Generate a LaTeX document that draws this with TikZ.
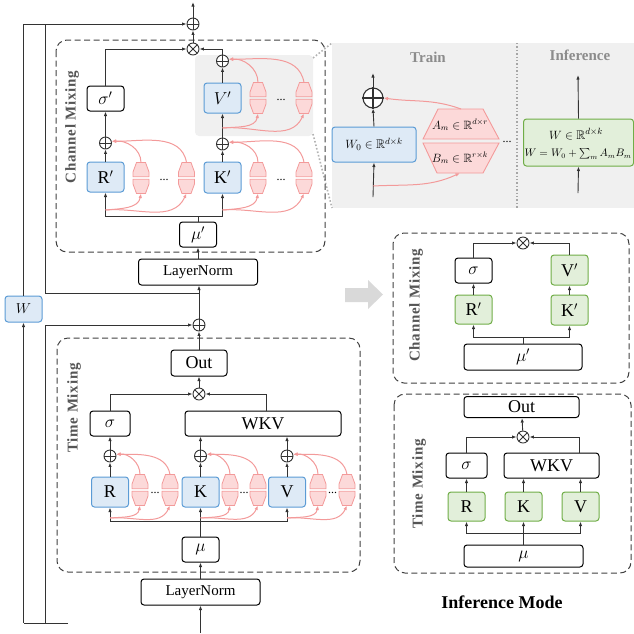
\documentclass[tikz,border=0pt]{standalone}
\usepackage{fontspec}
\setmainfont{Liberation Serif}
\usepackage{amssymb}
\usetikzlibrary{arrows.meta,calc}
\definecolor{lc}{HTML}{333333}
\definecolor{bfill}{HTML}{DEEAF6}
\definecolor{bdraw}{HTML}{5B9BD5}
\definecolor{gfill}{HTML}{E2EFDA}
\definecolor{gdraw}{HTML}{70AD47}
\definecolor{pdraw}{HTML}{F39A9A}
\definecolor{pfill}{HTML}{FCD9D9}
\definecolor{panel}{HTML}{F0F0F0}
\definecolor{gtxt}{HTML}{8C8C8C}
\definecolor{lblc}{HTML}{555555}
\definecolor{darrow}{HTML}{D9D9D9}
\begin{document}
\begin{tikzpicture}[x=1pt,y=-1pt,
  nbox/.style={draw=black, line width=1pt, rounded corners=3pt, fill=white, inner sep=0pt, font=\fontsize{18}{18}\selectfont},
  bbox/.style={nbox, draw=bdraw, fill=bfill},
  gbox/.style={nbox, draw=gdraw, fill=gfill},
  sz/.style 2 args={minimum width=#1pt, minimum height=#2pt},
  oplus/.style={circle, draw=lc, line width=0.9pt, fill=white, minimum size=12pt, inner sep=0pt,
    path picture={\draw[lc, line width=0.9pt] (path picture bounding box.north) -- (path picture bounding box.south) (path picture bounding box.west) -- (path picture bounding box.east);}},
  otimes/.style={circle, draw=lc, line width=0.9pt, fill=white, minimum size=12pt, inner sep=0pt,
    path picture={\draw[lc, line width=0.9pt] (path picture bounding box.north west) -- (path picture bounding box.south east) (path picture bounding box.north east) -- (path picture bounding box.south west);}},
  ar/.style={-{Latex[length=4.5pt,width=3.4pt]}, draw=lc, line width=0.9pt},
  ln/.style={draw=lc, line width=0.9pt},
  parr/.style={-{Latex[length=4.5pt,width=3.6pt]}, draw=pdraw, line width=1pt},
  dbox/.style={draw=black!75, dash pattern=on 6pt off 3.5pt, line width=1pt, rounded corners=11pt},
  lbl/.style={rotate=90, text=lblc, font={\fontsize{15}{15}\selectfont\bfseries\addfontfeatures{LetterSpace=5}}},
  dots/.style={inner sep=0pt, font=\fontsize{12}{12}\selectfont},
  lorahex/.pic={
    \filldraw[draw=pdraw, fill=pfill, line width=0.8pt] (-4.5,-15.5) -- (4.5,-15.5) -- (8,-6) -- (8,-1.3) -- (-8,-1.3) -- (-8,-6) -- cycle;
    \filldraw[draw=pdraw, fill=pfill, line width=0.8pt] (-4.5,15.5) -- (4.5,15.5) -- (8,6) -- (8,1.3) -- (-8,1.3) -- (-8,6) -- cycle;
    \coordinate (-top) at (0,-15.5);
    \coordinate (-bot) at (0,15.5);
  }
]
\useasboundingbox (0,0) rectangle (634,633);

% ---------------- backgrounds ----------------
\fill[panel] (332,43) rectangle (634,208);
\fill[panel, rounded corners=4pt] (195,55) rectangle (313,136);
\draw[gray!60, dotted, line width=1.6pt] (313,58) -- (332,43);
\draw[gray!60, dotted, line width=1.6pt] (313,134) -- (332,208);
\draw[gray!70, dotted, line width=1.4pt] (517,43) -- (517,208);
\draw[dbox] (56,40) rectangle (325,252);
\draw[dbox] (57,338) rectangle (360,572);
\draw[dbox] (393,233) rectangle (629,383);
\draw[dbox] (394,394) rectangle (631,573);

% ---------------- Channel mixing (training) ----------------
\node[oplus] (topplus) at (193,24) {};
\coordinate (topend) at (193,2);
\node[otimes] (cmx) at (193,49) {};
\node[nbox, sz={37}{25}] (sigp) at (105.5,98.5) {$\sigma'$};
\node[bbox, sz={37}{30}] (vp) at (222.5,98) {$V'$};
\node[oplus] (vplus) at (222.5,61) {};
\node[oplus] (rplus) at (105.5,143) {};
\node[bbox, sz={37}{30}] (rp) at (105.5,177) {R$'$};
\node[oplus] (kplus) at (222.5,144) {};
\node[bbox, sz={37}{31}] (kp) at (222.5,177.5) {K$'$};
\node[nbox, sz={37}{25}] (mup) at (198,234.5) {$\mu'$};
\node[nbox, sz={119}{26}, font=\fontsize{15}{15}\selectfont] (ln1) at (198,272) {LayerNorm};
\coordinate (cmj) at (198,216);
\node[lbl] (cmlabel) at (72,127) {Channel Mixing};

\draw[ar] (topplus) -- (topend);
\draw[ar] (cmx) -- (topplus);
\draw[ar] (sigp.north) |- (cmx.west);
\draw[ar] (vplus.north) |- (cmx.east);
\draw[ar] (vp) -- (vplus);
\draw[ar] (kplus) -- (vp);
\draw[ar] (kp) -- (kplus);
\draw[ar] (rp) -- (rplus);
\draw[ar] (rplus) -- (sigp);
\draw[ln] (mup.north) -- (cmj);
\draw[ar] (cmj) -| (rp.south);
\draw[ar] (cmj) -| (kp.south);
\draw[ar] (ln1) -- (mup);

% pink LoRA branches (channel mixing)
\pic (rh1) at (141,178) {lorahex};
\pic (rh2) at (186.5,178) {lorahex};
\node[dots] (rdots) at (164,180) {...};
\coordinate (rs) at (105.5,210);
\draw[parr] (rs) to[out=5,in=-100] (rh1-bot);
\draw[parr] (rs) to[out=5,in=-115] (rh2-bot);
\draw[parr] (rh1-top) to[out=90,in=5] (rplus.15);
\draw[parr] (rh2-top) to[out=100,in=0] (rplus.15);

\pic (kh1) at (258,178) {lorahex};
\pic (kh2) at (304,178) {lorahex};
\node[dots] (kdots) at (281,180) {...};
\coordinate (ks) at (222.5,210);
\draw[parr] (ks) to[out=5,in=-100] (kh1-bot);
\draw[parr] (ks) to[out=5,in=-115] (kh2-bot);
\draw[parr] (kh1-top) to[out=90,in=5] (kplus.15);
\draw[parr] (kh2-top) to[out=100,in=0] (kplus.15);

\pic (vh1) at (258,98) {lorahex};
\pic (vh2) at (304,98) {lorahex};
\node[dots] (vdots) at (281,100) {...};
\coordinate (vs) at (222.5,128);
\draw[parr] (vs) to[out=5,in=-100] (vh1-bot);
\draw[parr] (vs) to[out=5,in=-115] (vh2-bot);
\draw[parr] (vh1-top) to[out=90,in=5] (vplus.15);
\draw[parr] (vh2-top) to[out=100,in=0] (vplus.15);

% ---------------- Time mixing (training) ----------------
\node[oplus] (tplus) at (199,325) {};
\node[nbox, sz={56}{26}] (out) at (199,363) {Out};
\node[otimes] (tmx) at (199,394) {};
\node[nbox, sz={40}{25}] (sig) at (110,423.5) {$\sigma$};
\node[nbox, sz={156}{25}] (wkv) at (263,423.5) {WKV};
\node[oplus] (rplus2) at (110,456) {};
\node[oplus] (kplus2) at (200.5,456) {};
\node[oplus] (vplus2) at (287,456) {};
\node[bbox, sz={37}{30}] (R) at (110,492) {R};
\node[bbox, sz={37}{30}] (K) at (200.5,492) {K};
\node[bbox, sz={37}{30}] (V) at (287,492) {V};
\coordinate (tj) at (200.5,521);
\node[nbox, sz={37}{25}] (mu) at (200.5,549.5) {$\mu$};
\node[nbox, sz={119}{26}, font=\fontsize{15}{15}\selectfont] (ln2) at (200.5,592) {LayerNorm};
\coordinate (inp) at (200.5,633);
\node[lbl] (tmlabel) at (74,408) {Time Mixing};

\draw[ar] (tplus.north) -- (tplus.north |- ln1.south);
\draw[ar] (out) -- (tplus);
\draw[ar] (tmx) -- (out);
\draw[ar] (sig.north) |- (tmx.west);
\draw[ar] ($(wkv.north)+(3,0)$) |- (tmx.east);
\draw[ar] (R) -- (rplus2);
\draw[ar] (rplus2) -- (sig);
\draw[ar] (K) -- (kplus2);
\draw[ar] (kplus2.north) -- (kplus2.north |- wkv.south);
\draw[ar] (V) -- (vplus2);
\draw[ar] (vplus2.north) -- (vplus2.north |- wkv.south);
\draw[ln] (mu.north) -- (tj);
\draw[ar] (tj) -| (R.south);
\draw[ar] (tj) -- (K.south);
\draw[ar] (tj) -| (V.south);
\draw[ar] (ln2) -- (mu);
\draw[ar] (inp) -- (ln2);

\pic (th1) at (140,490) {lorahex};
\pic (th2) at (170,490) {lorahex};
\node[dots] (tdots1) at (155,493) {...};
\coordinate (trs) at (110,518);
\draw[parr] (trs) to[out=5,in=-100] (th1-bot);
\draw[parr] (trs) to[out=5,in=-115] (th2-bot);
\draw[parr] (th1-top) to[out=90,in=5] (rplus2.15);
\draw[parr] (th2-top) to[out=100,in=0] (rplus2.15);

\pic (th3) at (230,490) {lorahex};
\pic (th4) at (258,490) {lorahex};
\node[dots] (tdots2) at (244,493) {...};
\coordinate (tks) at (200.5,518);
\draw[parr] (tks) to[out=5,in=-100] (th3-bot);
\draw[parr] (tks) to[out=5,in=-115] (th4-bot);
\draw[parr] (th3-top) to[out=90,in=5] (kplus2.15);
\draw[parr] (th4-top) to[out=100,in=0] (kplus2.15);

\pic (th5) at (318,490) {lorahex};
\pic (th6) at (347,490) {lorahex};
\node[dots] (tdots3) at (332.5,493) {...};
\coordinate (tvs) at (287,518);
\draw[parr] (tvs) to[out=5,in=-100] (th5-bot);
\draw[parr] (tvs) to[out=5,in=-115] (th6-bot);
\draw[parr] (th5-top) to[out=90,in=5] (vplus2.15);
\draw[parr] (th6-top) to[out=100,in=0] (vplus2.15);

% ---------------- residual lines and W ----------------
\node[bbox, sz={37}{26}, font=\fontsize{15}{15}\selectfont] (W) at (23.5,309) {$W$};
\coordinate (bl) at (23.5,623);
\coordinate (br) at (68,623);
\coordinate (tl) at (23.5,24);
\coordinate (c1) at (45,623);
\coordinate (c2) at (45,325);
\coordinate (c3) at (45,293);
\coordinate (c4) at (45,24);
\coordinate (c5) at (199,293);
\draw[ln] (br) -- (bl);
\draw[ar] (bl) -- (W);
\draw[ln] (W.north) -- (tl);
\draw[ar] (tl) -- (topplus.west);
\draw[ln] (c1) -- (c2);
\draw[ar] (c2) -- (tplus.west);
\draw[ln] (c4) -- (c3) -- (c5);

% ---------------- Train / Inference panel ----------------
\node[text=gtxt, font=\fontsize{15}{15}\selectfont\bfseries] (train) at (428,57) {Train};
\node[text=gtxt, font=\fontsize{15}{15}\selectfont\bfseries] (infer) at (580,55) {Inference};
\node[bbox, sz={84}{35}, font=\fontsize{12.5}{12.5}\selectfont] (w0) at (374,144.5) {$W_0 \in \mathbb{R}^{d\times k}$};
\node[circle, draw=lc, fill=white, line width=1.1pt, minimum size=20pt, inner sep=0pt] (bplus) at (373,98) {};
\draw[lc, line width=1.1pt] (bplus.north) -- (bplus.south) (bplus.west) -- (bplus.east);
\coordinate (btop) at (373,73);
\coordinate (bbot) at (373,197);
\coordinate (bsrc) at (373,186);
\filldraw[draw=pdraw, fill=pfill, line width=0.9pt] (438,109) -- (483,109) -- (499,139) -- (423,139) -- cycle;
\filldraw[draw=pdraw, fill=pfill, line width=0.9pt] (423,143) -- (499,143) -- (483,173) -- (437,173) -- cycle;
\node[font=\fontsize{12}{12}\selectfont] (am) at (460,125) {$A_m \in \mathbb{R}^{d\times r}$};
\node[font=\fontsize{12}{12}\selectfont] (bm) at (460,158) {$B_m \in \mathbb{R}^{r\times k}$};
\coordinate (atop) at (461,109);
\coordinate (bbt) at (460,173);
\node[dots] (pdots) at (507,142) {...};
\node[gbox, sz={110}{47}] (wg) at (578.5,142.5) {};
\node[font=\fontsize{12.5}{12.5}\selectfont] (wg1) at (576,134) {$W \in \mathbb{R}^{d\times k}$};
\node[font=\fontsize{10.5}{10.5}\selectfont] (wg2) at (578,154) {$W = W_0 + \sum_m A_m B_m$};
\coordinate (gtop) at (578,75);
\coordinate (gbot) at (578,193);
\draw[ar] (bbot) -- (w0.south);
\draw[ar] (w0.north) -- (bplus.south);
\draw[ar] (bplus.north) -- (btop);
\draw[parr] (atop) to[out=160,in=-8] (bplus.east);
\draw[parr] (bsrc) to[out=3,in=-155] (bbt);
\draw[ar] (gbot) -- (wg.south);
\draw[ar] (wg.north) -- (gtop);

% ---------------- arrow to inference mode ----------------
\fill[darrow] (345,288) -- (368,288) -- (368,280) -- (383,294.5) -- (368,309) -- (368,302) -- (345,302) -- cycle;

% ---------------- Inference channel mixing ----------------
\node[lbl] (icmlabel) at (416,305.5) {Channel Mixing};
\node[otimes] (icmx) at (523,243) {};
\node[nbox, sz={37}{25}] (isig) at (473.5,270.5) {$\sigma$};
\node[gbox, sz={37}{30}] (ivp) at (569.5,270) {V$'$};
\node[gbox, sz={37}{29}] (irp) at (473.5,309.5) {R$'$};
\node[gbox, sz={37}{30}] (ikp) at (569.5,310) {K$'$};
\node[nbox, sz={118}{26}] (imup) at (523,357) {$\mu'$};
\coordinate (icj) at (523,337);
\draw[ar] (isig.north) |- (icmx.west);
\draw[ar] (ivp.north) |- (icmx.east);
\draw[ar] (irp) -- (isig);
\draw[ar] (ikp) -- (ivp);
\draw[ln] (imup.north) -- (icj);
\draw[ar] (icj) -| (irp.south);
\draw[ar] (icj) -| (ikp.south);

% ---------------- Inference time mixing ----------------
\node[lbl] (itmlabel) at (419,484) {Time Mixing};
\node[nbox, sz={115}{21}] (iout) at (521.5,407) {Out};
\node[otimes] (itmx) at (523,437) {};
\node[nbox, sz={41}{25}] (isig2) at (466.5,465.5) {$\sigma$};
\node[nbox, sz={95}{25}] (iwkv) at (551.5,465.5) {WKV};
\node[gbox, sz={37}{29}] (ir) at (466.5,506.5) {R};
\node[gbox, sz={37}{29}] (ik) at (523.5,506.5) {K};
\node[gbox, sz={37}{29}] (iv) at (580.5,506.5) {V};
\node[nbox, sz={119}{22}] (imu) at (523.5,556) {$\mu$};
\coordinate (itj) at (523.5,533);
\draw[ar] (itmx) -- (iout);
\draw[ar] (isig2.north) |- (itmx.west);
\draw[ar] ($(iwkv.north)+(28,0)$) |- (itmx.east);
\draw[ar] (ir) -- (isig2);
\draw[ar] (ik.north) -- (ik.north |- iwkv.south);
\draw[ar] (iv.north) -- (iv.north |- iwkv.south);
\draw[ln] (imu.north) -- (itj);
\draw[ar] (itj) -| (ir.south);
\draw[ar] (itj) -- (ik.south);
\draw[ar] (itj) -| (iv.south);

\node[font=\fontsize{18}{18}\selectfont\bfseries] (mode) at (502,602) {Inference Mode};
\end{tikzpicture}
\end{document}
